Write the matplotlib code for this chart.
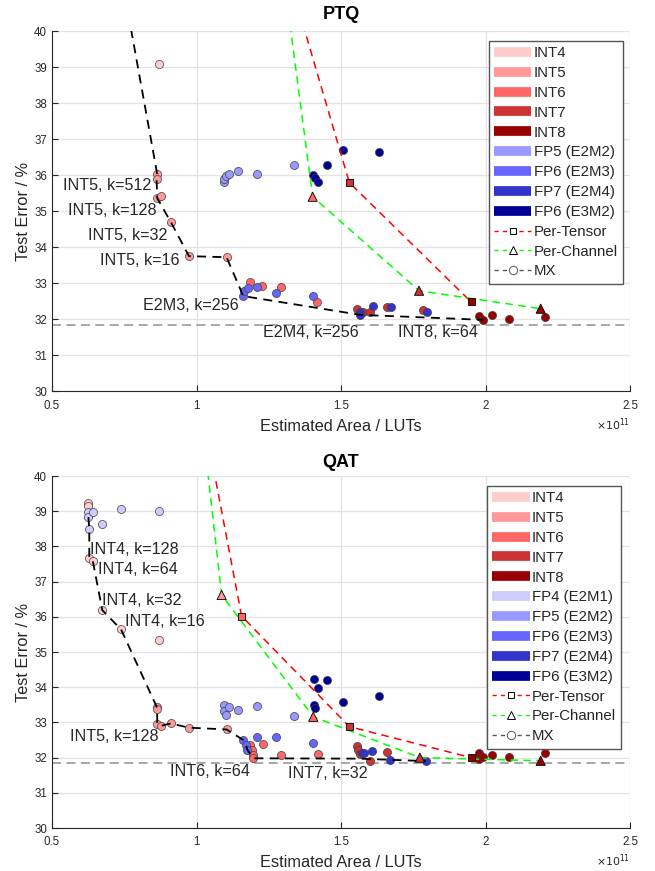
import matplotlib
matplotlib.use('Agg')
import matplotlib.pyplot as plt
from matplotlib.lines import Line2D
from matplotlib.ticker import FixedLocator, FormatStrFormatter

plt.rcParams['font.family'] = ['Liberation Sans', 'DejaVu Sans']

# ---------------- categories / colours ----------------
FORMATS = ['INT4', 'INT5', 'INT6', 'INT7', 'INT8',
           'FP4 (E2M1)', 'FP5 (E2M2)', 'FP6 (E2M3)', 'FP7 (E2M4)', 'FP6 (E3M2)']
FORMAT_COLORS = ['#FFCCCC', '#FF9999', '#FF6666', '#CC3333', '#990000',
                 '#CCCCFF', '#9999FF', '#6666FF', '#3333CC', '#000099']

X_TICKS = [0.5, 1.0, 1.5, 2.0, 2.5]
Y_TICKS = list(range(30, 41))
BASELINE = 31.85

# ---------------- PTQ data (area in 1e11 LUTs, test error %) ----------------
PTQ_INT4_X = [0.870]
PTQ_INT4_Y = [39.10]
PTQ_INT5_X = [0.864, 0.862, 0.864, 0.876, 0.911, 0.974, 1.104]
PTQ_INT5_Y = [36.04, 35.89, 35.37, 35.44, 34.71, 33.76, 33.73]
PTQ_INT6_X = [1.185, 1.228, 1.291, 1.418]
PTQ_INT6_Y = [33.03, 32.94, 32.89, 32.49]
PTQ_INT7_X = [1.554, 1.577, 1.600, 1.658, 1.785]
PTQ_INT7_Y = [32.28, 32.22, 32.22, 32.34, 32.26]
PTQ_INT8_X = [1.979, 1.993, 2.021, 2.082, 2.206]
PTQ_INT8_Y = [32.11, 31.99, 32.13, 32.01, 32.08]
PTQ_E2M2_X = [1.096, 1.096, 1.101, 1.113, 1.144, 1.208, 1.337]
PTQ_E2M2_Y = [35.81, 35.90, 35.99, 36.04, 36.12, 36.04, 36.28]
PTQ_E2M3_X = [1.162, 1.164, 1.179, 1.210, 1.275, 1.402]
PTQ_E2M3_Y = [32.65, 32.80, 32.87, 32.91, 32.73, 32.66]
PTQ_E2M4_X = [1.566, 1.566, 1.610, 1.672, 1.797]
PTQ_E2M4_Y = [32.22, 32.13, 32.38, 32.35, 32.22]
PTQ_E3M2_X = [1.404, 1.410, 1.422, 1.450, 1.508, 1.630]
PTQ_E3M2_Y = [36.01, 35.92, 35.83, 36.29, 36.71, 36.66]

PTQ_MX_X = [0.55, 0.864, 0.862, 0.864, 0.911, 0.974, 1.104, 1.162, 1.566, 1.993]
PTQ_MX_Y = [50.0, 36.04, 35.89, 35.37, 34.71, 33.76, 33.73, 32.65, 32.13, 31.99]
PTQ_TENSOR_X = [1.156, 1.529, 1.950]
PTQ_TENSOR_Y = [46.0, 35.80, 32.49]
PTQ_TENSOR_FMT = ['INT6', 'INT7', 'INT8']
PTQ_CHANNEL_X = [1.087, 1.402, 1.770, 2.191]
PTQ_CHANNEL_Y = [54.6, 35.41, 32.80, 32.30]
PTQ_CHANNEL_FMT = ['INT5', 'INT6', 'INT7', 'INT8']

PTQ_LABELS = ['INT5, k=512', 'INT5, k=128', 'INT5, k=32', 'INT5, k=16',
              'E2M3, k=256', 'E2M4, k=256', 'INT8, k=64']
PTQ_LABEL_X = [0.538, 0.555, 0.625, 0.666, 0.815, 1.230, 1.697]
PTQ_LABEL_Y = [35.72, 35.04, 34.33, 33.63, 32.40, 31.63, 31.63]

# ---------------- QAT data ----------------
QAT_INT4_X = [0.626, 0.626, 0.629, 0.641, 0.674, 0.739, 0.870]
QAT_INT4_Y = [39.22, 39.16, 37.66, 37.59, 36.19, 35.64, 35.34]
QAT_INT5_X = [0.862, 0.864, 0.864, 0.876, 0.911, 0.974, 1.104]
QAT_INT5_Y = [33.45, 33.38, 32.95, 32.90, 32.97, 32.85, 32.80]
QAT_INT6_X = [1.185, 1.191, 1.194, 1.197, 1.229, 1.291, 1.419]
QAT_INT6_Y = [32.36, 32.22, 32.07, 31.98, 32.39, 32.07, 32.10]
QAT_INT7_X = [1.554, 1.560, 1.566, 1.600, 1.658]
QAT_INT7_Y = [32.32, 32.21, 32.10, 31.90, 32.17]
QAT_INT8_X = [1.979, 1.979, 1.992, 2.021, 2.082, 2.206]
QAT_INT8_Y = [32.14, 31.96, 32.03, 32.07, 32.03, 32.13]
QAT_E2M1_X = [0.626, 0.626, 0.643, 0.629, 0.674, 0.739, 0.870]
QAT_E2M1_Y = [38.97, 38.83, 38.97, 38.49, 38.64, 39.05, 39.01]
QAT_E2M2_X = [1.096, 1.096, 1.101, 1.113, 1.144, 1.208, 1.337]
QAT_E2M2_Y = [33.49, 33.33, 33.21, 33.43, 33.35, 33.47, 33.19]
QAT_E2M3_X = [1.162, 1.171, 1.176, 1.210, 1.275, 1.404]
QAT_E2M3_Y = [32.50, 32.36, 32.22, 32.59, 32.59, 32.41]
QAT_E2M4_X = [1.572, 1.580, 1.606, 1.670, 1.794]
QAT_E2M4_Y = [32.13, 32.13, 32.19, 31.93, 31.90]
QAT_E3M2_X = [1.407, 1.450, 1.422, 1.508, 1.630, 1.407, 1.410]
QAT_E3M2_Y = [34.23, 34.20, 33.99, 33.59, 33.74, 33.49, 33.40]

QAT_MX_X = [0.626, 0.629, 0.629, 0.641, 0.674, 0.739, 0.862, 0.864, 0.864, 0.876,
            0.911, 0.974, 1.104, 1.162, 1.171, 1.176, 1.197, 1.566, 1.794]
QAT_MX_Y = [38.83, 38.49, 37.66, 37.59, 36.19, 35.64, 33.45, 33.38, 32.95, 32.90,
            32.97, 32.85, 32.80, 32.50, 32.36, 32.22, 31.98, 31.97, 31.90]
QAT_TENSOR_X = [0.832, 1.156, 1.529, 1.950]
QAT_TENSOR_Y = [50.0, 36.02, 32.88, 32.00]
QAT_TENSOR_FMT = ['INT5', 'INT6', 'INT7', 'INT8']
QAT_CHANNEL_X = [0.903, 1.087, 1.404, 1.773, 2.191]
QAT_CHANNEL_Y = [50.0, 36.62, 33.16, 32.00, 31.91]
QAT_CHANNEL_FMT = ['INT4', 'INT5', 'INT6', 'INT7', 'INT8']

QAT_LABELS = ['INT4, k=128', 'INT4, k=64', 'INT4, k=32', 'INT4, k=16',
              'INT5, k=128', 'INT6, k=64', 'INT7, k=32']
QAT_LABEL_X = [0.631, 0.659, 0.673, 0.753, 0.562, 0.908, 1.317]
QAT_LABEL_Y = [37.90, 37.35, 36.46, 35.86, 32.61, 31.60, 31.56]

PTQ_SCATTER = [
    ('INT4', PTQ_INT4_X, PTQ_INT4_Y), ('INT5', PTQ_INT5_X, PTQ_INT5_Y),
    ('INT6', PTQ_INT6_X, PTQ_INT6_Y), ('INT7', PTQ_INT7_X, PTQ_INT7_Y),
    ('INT8', PTQ_INT8_X, PTQ_INT8_Y), ('FP5 (E2M2)', PTQ_E2M2_X, PTQ_E2M2_Y),
    ('FP6 (E2M3)', PTQ_E2M3_X, PTQ_E2M3_Y), ('FP7 (E2M4)', PTQ_E2M4_X, PTQ_E2M4_Y),
    ('FP6 (E3M2)', PTQ_E3M2_X, PTQ_E3M2_Y)]
QAT_SCATTER = [
    ('INT4', QAT_INT4_X, QAT_INT4_Y), ('INT5', QAT_INT5_X, QAT_INT5_Y),
    ('INT6', QAT_INT6_X, QAT_INT6_Y), ('INT7', QAT_INT7_X, QAT_INT7_Y),
    ('INT8', QAT_INT8_X, QAT_INT8_Y), ('FP4 (E2M1)', QAT_E2M1_X, QAT_E2M1_Y),
    ('FP5 (E2M2)', QAT_E2M2_X, QAT_E2M2_Y), ('FP6 (E2M3)', QAT_E2M3_X, QAT_E2M3_Y),
    ('FP7 (E2M4)', QAT_E2M4_X, QAT_E2M4_Y), ('FP6 (E3M2)', QAT_E3M2_X, QAT_E3M2_Y)]

COLOR_OF = dict(zip(FORMATS, FORMAT_COLORS))
TXT = '#262626'
DASH = (0, (5, 3.5))


def draw(ax, title, title_pad, scatter, mx_x, mx_y, t_x, t_y, t_fmt, c_x, c_y, c_fmt,
         labels, lab_x, lab_y, legend_formats, legend_anchor):
    ax.set_xlim(0.5, 2.5)
    ax.set_ylim(30, 40)
    ax.grid(True, color='#E3E3E3', lw=0.9, zorder=0)
    ax.set_axisbelow(True)
    for s in ['top', 'right']:
        ax.spines[s].set_visible(False)
    for s in ['left', 'bottom']:
        ax.spines[s].set_color(TXT)
        ax.spines[s].set_linewidth(0.8)
    ax.xaxis.set_major_locator(FixedLocator(X_TICKS))
    ax.yaxis.set_major_locator(FixedLocator(Y_TICKS))
    ax.xaxis.set_major_formatter(FormatStrFormatter('%g'))
    ax.tick_params(direction='in', length=4, width=0.8, colors=TXT,
                   labelsize=8.3, top=False, right=False)
    ax.tick_params(axis='x', pad=6)

    ax.axhline(BASELINE, color='#A0A0A0', lw=1.3, ls=(0, (5, 3)), zorder=1)

    for name, xs, ys in scatter:
        ax.scatter(xs, ys, s=34, c=COLOR_OF[name], edgecolors='#404040',
                   linewidths=0.5, zorder=3)

    ax.plot(mx_x, mx_y, color='black', lw=1.3, ls=DASH, zorder=4)
    ax.plot(t_x, t_y, color='#FF0000', lw=1.1, ls=DASH, zorder=4)
    ax.plot(c_x, c_y, color='#00FF00', lw=1.1, ls=DASH, zorder=4)
    ax.scatter(t_x, t_y, marker='s', s=26, c=[COLOR_OF[f] for f in t_fmt],
               edgecolors='black', linewidths=0.6, zorder=5)
    ax.scatter(c_x, c_y, marker='^', s=44, c=[COLOR_OF[f] for f in c_fmt],
               edgecolors='black', linewidths=0.6, zorder=5)

    for t, x, y in zip(labels, lab_x, lab_y):
        ax.text(x, y, t, fontsize=11.6, color=TXT, ha='left', va='center', zorder=6)

    ax.set_title(title, fontsize=13, fontweight='bold', color='black', pad=title_pad)
    ax.set_xlabel('Estimated Area / LUTs', fontsize=11.8, color=TXT, labelpad=5)
    ax.set_ylabel('Test Error / %', fontsize=11.8, color=TXT, labelpad=2.5)
    ax.text(1.0, -0.092, r'$\times10^{11}$', transform=ax.transAxes, fontsize=7.8,
            color=TXT, ha='right', va='center')

    handles = [Line2D([0], [0], color=COLOR_OF[f], lw=7, solid_capstyle='butt')
               for f in legend_formats]
    names = list(legend_formats)
    handles += [
        Line2D([0], [0], color='#FF0000', lw=1.0, ls=(0, (3, 3)), marker='s',
               markersize=5, markerfacecolor='white', markeredgecolor='black', markeredgewidth=0.7),
        Line2D([0], [0], color='#00FF00', lw=1.0, ls=(0, (3, 3)), marker='^',
               markersize=6, markerfacecolor='white', markeredgecolor='black', markeredgewidth=0.7),
        Line2D([0], [0], color='#555555', lw=1.0, ls=(0, (3, 3)), marker='o',
               markersize=6, markerfacecolor='white', markeredgecolor='#555555', markeredgewidth=0.7)]
    names += ['Per-Tensor', 'Per-Channel', 'MX']
    leg = ax.legend(handles, names, loc='upper right', bbox_to_anchor=legend_anchor,
                    borderaxespad=0, fontsize=10.8, handlelength=2.5, handletextpad=0.15,
                    labelspacing=0.39, borderpad=0.35, fancybox=False, framealpha=1,
                    edgecolor='#555555')
    leg.get_frame().set_linewidth(1.0)
    for t in leg.get_texts():
        t.set_color(TXT)


fig = plt.figure(figsize=(6.55, 8.71), dpi=100)
ax1 = fig.add_axes([52 / 655, 1 - 391.5 / 871, 578 / 655, 360 / 871])
ax2 = fig.add_axes([52 / 655, 1 - 828 / 871, 578 / 655, 352 / 871])

draw(ax1, 'PTQ', 9, PTQ_SCATTER, PTQ_MX_X, PTQ_MX_Y,
     PTQ_TENSOR_X, PTQ_TENSOR_Y, PTQ_TENSOR_FMT,
     PTQ_CHANNEL_X, PTQ_CHANNEL_Y, PTQ_CHANNEL_FMT,
     PTQ_LABELS, PTQ_LABEL_X, PTQ_LABEL_Y,
     ['INT4', 'INT5', 'INT6', 'INT7', 'INT8',
      'FP5 (E2M2)', 'FP6 (E2M3)', 'FP7 (E2M4)', 'FP6 (E3M2)'],
     (0.988, 0.974))
draw(ax2, 'QAT', 6.5, QAT_SCATTER, QAT_MX_X, QAT_MX_Y,
     QAT_TENSOR_X, QAT_TENSOR_Y, QAT_TENSOR_FMT,
     QAT_CHANNEL_X, QAT_CHANNEL_Y, QAT_CHANNEL_FMT,
     QAT_LABELS, QAT_LABEL_X, QAT_LABEL_Y,
     FORMATS, (0.985, 0.972))

fig.savefig('out.png', dpi=100)
